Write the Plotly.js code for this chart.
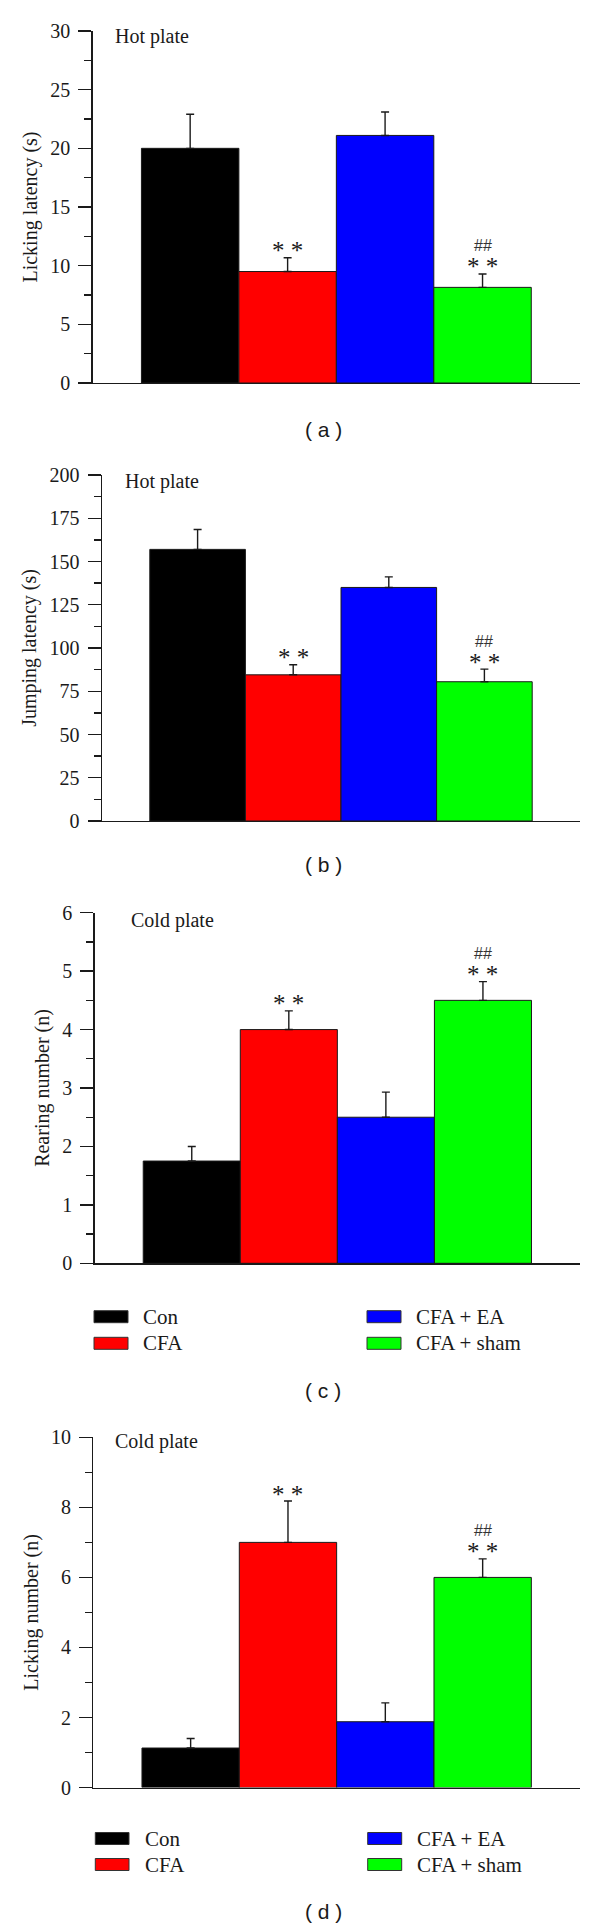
<!DOCTYPE html>
<html><head><meta charset="utf-8">
<script src="https://cdn.plot.ly/plotly-3.0.1.min.js"></script>
<style>html,body{margin:0;padding:0;background:#fff;}#chart{width:600px;height:1927px;}</style>
</head><body><div id="chart"></div>
<script>
// ---- data ----
const groups = ['Con', 'CFA', 'CFA + EA', 'CFA + sham'];
const colors = ['#000000', '#ff0000', '#0000ff', '#00ff00'];

const lickingLatency = [20.0, 9.5, 21.1, 8.15];
const lickingLatencyErr = [2.9, 1.18, 2.0, 1.14];

const jumpingLatency = [157, 84.5, 135, 80.5];
const jumpingLatencyErr = [11.5, 5.8, 6.1, 7.3];

const rearingNumber = [1.75, 4.0, 2.5, 4.5];
const rearingNumberErr = [0.25, 0.32, 0.43, 0.32];

const lickingNumber = [1.13, 7.0, 1.88, 6.0];
const lickingNumberErr = [0.27, 1.18, 0.54, 0.53];

const starMarks = ['', '**', '', '**'];
const hashMarks = ['', '', '', '##'];

const panelTitles = ['Licking latency (s)', 'Jumping latency (s)', 'Rearing number (n)', 'Licking number (n)'];
const plateLabels = ['Hot plate', 'Hot plate', 'Cold plate', 'Cold plate'];
const panelLetters = ['( a )', '( b )', '( c )', '( d )'];
const yMax = [30, 200, 6, 10];
const yStep = [5, 25, 1, 2];

// ---- layout geometry (pixels) ----
const W = 600, H = 1927;
const px = x => x / W;
const py = y => 1 - y / H;
const geo = [
  {x0: 92.7, x1: 580, yTop: 31,    yZero: 383,    plate: [113, 37],    letter: [323, 430],  legend: null},
  {x0: 102,  x1: 580, yTop: 475,   yZero: 821,    plate: [122.7, 481.7], letter: [323, 865], legend: null},
  {x0: 94.7, x1: 580, yTop: 912.7, yZero: 1263.3, plate: [128.7, 920.7], letter: [323, 1390], legend: {rows: [1316.7, 1343.3], sw: [[94, 128], [367, 401]], tx: [141, 414]}},
  {x0: 93.3, x1: 580, yTop: 1437.3, yZero: 1787.6, plate: [112.7, 1441.9], letter: [323, 1911], legend: {rows: [1838.5, 1864.5], sw: [[95.3, 129], [367.7, 401.7]], tx: [142.7, 415.3]}}
];

const values = [lickingLatency, jumpingLatency, rearingNumber, lickingNumber];
const errors = [lickingLatencyErr, jumpingLatencyErr, rearingNumberErr, lickingNumberErr];

const ink = '#1a1a1a';
const serif = 'Liberation Serif, Times New Roman, serif';
const sans = 'Liberation Sans, Arial, sans-serif';

const traces = [];
const layout = {
  width: W, height: H,
  margin: {l: 0, r: 0, t: 0, b: 0},
  paper_bgcolor: '#ffffff', plot_bgcolor: 'rgba(0,0,0,0)',
  showlegend: false, bargap: 0, barmode: 'overlay',
  annotations: [], shapes: []
};

for (let k = 0; k < 4; k++) {
  const g = geo[k];
  const xa = k === 0 ? 'x' : 'x' + (k + 1);
  const ya = k === 0 ? 'y' : 'y' + (k + 1);
  const xaKey = k === 0 ? 'xaxis' : 'xaxis' + (k + 1);
  const yaKey = k === 0 ? 'yaxis' : 'yaxis' + (k + 1);
  const cats = groups.map((_, i) => i);

  traces.push({
    type: 'bar', x: cats, y: values[k], width: 1,
    xaxis: xa, yaxis: ya, hoverinfo: 'skip',
    marker: {color: colors, line: {color: ink, width: 1}},
    error_y: {type: 'data', symmetric: false, array: errors[k], arrayminus: [0, 0, 0, 0],
              color: ink, thickness: 1.4, width: 4}
  });

  layout[xaKey] = {
    domain: [px(g.x0), px(g.x1)], anchor: ya, range: [-1, 4],
    showline: true, linecolor: ink, linewidth: 1.4,
    ticks: '', showticklabels: false, showgrid: false, zeroline: false, fixedrange: true
  };
  layout[yaKey] = {
    domain: [py(g.yZero), py(g.yTop)], anchor: xa, range: [0, yMax[k]],
    tick0: 0, dtick: yStep[k], ticks: 'outside', ticklen: 13, tickwidth: 1.4, tickcolor: ink,
    showline: true, linecolor: ink, linewidth: 1.4, showgrid: false, zeroline: false,
    tickfont: {family: serif, size: 20, color: ink}, ticklabelstandoff: 4,
    minor: {dtick: yStep[k] / 2, ticks: 'outside', ticklen: 7, tickwidth: 1.4, tickcolor: ink, showgrid: false},
    title: {text: panelTitles[k], font: {family: serif, size: 20, color: ink}, standoff: 7},
    fixedrange: true
  };

  // significance marks
  for (let i = 0; i < groups.length; i++) {
    const top = values[k][i] + errors[k][i];
    if (starMarks[i]) {
      layout.annotations.push({xref: xa, yref: ya, x: i, y: top, text: starMarks[i].split('').join(' '),
        showarrow: false, yanchor: 'middle', yshift: 7,
        font: {family: serif, size: 25, color: ink}});
    }
    if (hashMarks[i]) {
      layout.annotations.push({xref: xa, yref: ya, x: i, y: top, text: hashMarks[i],
        showarrow: false, yanchor: 'middle', yshift: 28,
        font: {family: sans, size: 16, color: '#333333'}});
    }
  }

  // plate label
  layout.annotations.push({xref: 'paper', yref: 'paper', x: px(g.plate[0]), y: py(g.plate[1]),
    text: plateLabels[k], showarrow: false, xanchor: 'left', yanchor: 'middle',
    font: {family: serif, size: 20, color: ink}});
  // panel letter
  layout.annotations.push({xref: 'paper', yref: 'paper', x: px(g.letter[0]), y: py(g.letter[1]),
    text: panelLetters[k], showarrow: false, xanchor: 'center', yanchor: 'middle',
    font: {family: sans, size: 21, color: ink}});

  // legend (panels c and d)
  if (g.legend) {
    const L = g.legend;
    for (let i = 0; i < groups.length; i++) {
      const col = Math.floor(i / 2), row = i % 2;
      const yc = L.rows[row];
      layout.shapes.push({type: 'rect', xref: 'paper', yref: 'paper',
        x0: px(L.sw[col][0]), x1: px(L.sw[col][1]), y0: py(yc + 6), y1: py(yc - 6),
        fillcolor: colors[i], line: {color: '#333333', width: 1}});
      layout.annotations.push({xref: 'paper', yref: 'paper', x: px(L.tx[col]), y: py(yc),
        text: groups[i], showarrow: false, xanchor: 'left', yanchor: 'middle',
        font: {family: serif, size: 21, color: ink}});
    }
  }
}

Plotly.newPlot('chart', traces, layout, {staticPlot: true, displayModeBar: false});
</script></body></html>
